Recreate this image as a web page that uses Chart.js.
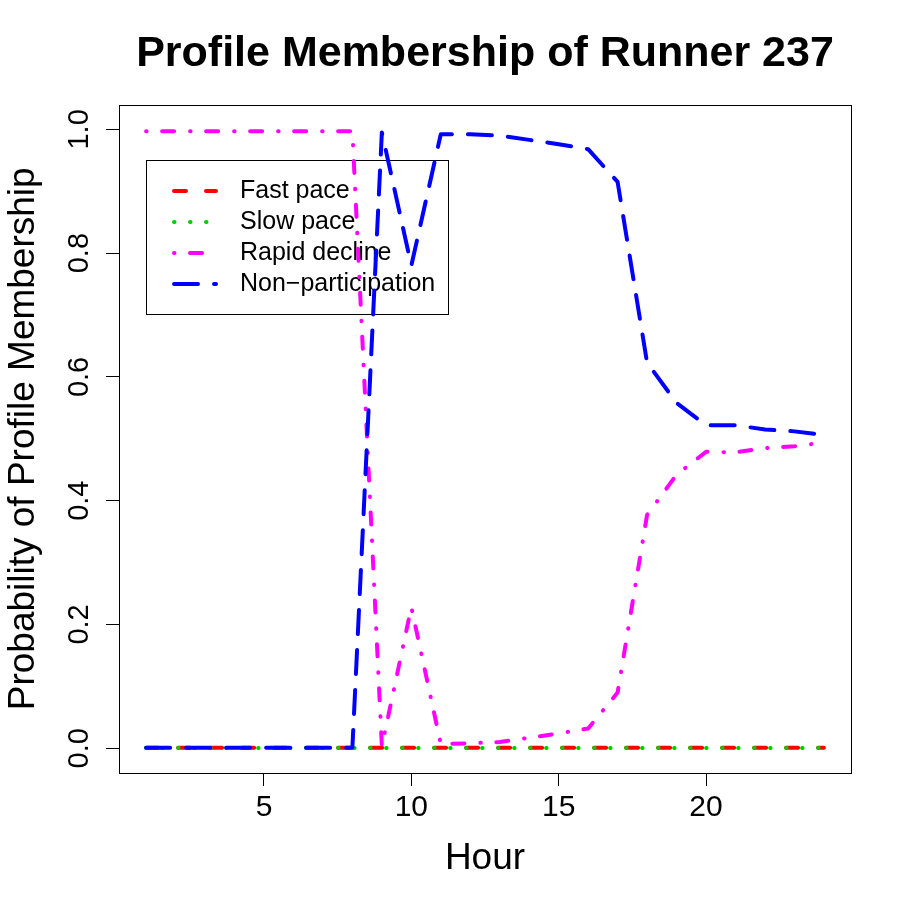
<!DOCTYPE html>
<html>
<head>
<meta charset="utf-8">
<script src="https://cdn.jsdelivr.net/npm/chart.js@4.4.0/dist/chart.umd.min.js"></script>
<style>
  html, body { margin: 0; padding: 0; background: #fff; }
  #wrap { width: 905px; height: 905px; }
</style>
</head>
<body>
<div id="wrap"><canvas id="chart" width="905" height="905"></canvas></div>
<script>
// --- data ---
const hours = [1, 2, 3, 4, 5, 6, 7, 8, 9, 10, 11, 12, 13, 14, 15, 16, 17, 18, 19, 20, 21, 22, 23, 24];
const fastPace = [0.001, 0.001, 0.001, 0.001, 0.001, 0.001, 0.001, 0.001, 0.001, 0.001, 0.001, 0.001,
                  0.001, 0.001, 0.001, 0.001, 0.001, 0.001, 0.001, 0.001, 0.001, 0.001, 0.001, 0.001];
const slowPace = [0.0005, 0.0005, 0.0005, 0.0005, 0.0005, 0.0005, 0.0005, 0.0005, 0.0005, 0.0005, 0.0005, 0.0005,
                  0.0005, 0.0005, 0.0005, 0.0005, 0.0005, 0.0005, 0.0005, 0.0005, 0.0005, 0.0005, 0.0005, 0.0005];
const rapidDecline = [0.997, 0.997, 0.997, 0.997, 0.997, 0.997, 0.997, 0.997, 0.003, 0.228, 0.007, 0.008,
                      0.010, 0.017, 0.024, 0.032, 0.090, 0.377, 0.442, 0.479, 0.478, 0.485, 0.488, 0.494];
const nonParticipation = [0.001, 0.001, 0.001, 0.001, 0.001, 0.001, 0.001, 0.001, 0.995, 0.780, 0.992, 0.992,
                          0.990, 0.983, 0.976, 0.968, 0.915, 0.623, 0.558, 0.522, 0.522, 0.515, 0.512, 0.506];
const seriesNames = ['Fast pace', 'Slow pace', 'Rapid decline', 'Non\u2212participation'];
const xTicks = [5, 10, 15, 20];
const yTicks = [0, 0.2, 0.4, 0.6, 0.8, 1.0];

const FONT = '"Liberation Sans", Arial, Helvetica, sans-serif';

// R line types (lwd 4) as canvas dashes with round caps
const styles = [
    { color: '#FF0000', dash: [12, 20] },          // lty 2
    { color: '#00CD00', dash: [0.5, 15.5] },       // lty 3
    { color: '#FF00FF', dash: [0.5, 15.5, 12, 16] },// lty 4
    { color: '#0000FF', dash: [24, 16] }           // lty 5
];
const seriesData = [fastPace, slowPace, rapidDecline, nonParticipation];

const datasets = seriesData.map((vals, i) => ({
    label: seriesNames[i],
    data: hours.map((h, j) => ({ x: h, y: vals[j] })),
    borderColor: styles[i].color,
    borderWidth: 4,
    borderDash: styles[i].dash,
    borderCapStyle: 'round',
    borderJoinStyle: 'round',
    pointRadius: 0,
    tension: 0,
    fill: false,
    order: 3 - i
}));

// box, rotated y labels and legend, the way R draws them
const rDecor = {
    id: 'rDecor',
    beforeDatasetsDraw(chart) {
        const ctx = chart.ctx;
        // legend (drawn below the lines)
        const lx = 146, ly = 160, lw = 302, lh = 154;
        ctx.save();
        ctx.strokeStyle = '#000';
        ctx.lineWidth = 1;
        ctx.strokeRect(lx + 0.5, ly + 0.5, lw, lh);
        const rows = [191, 222, 253, 284];
        ctx.font = '25px ' + FONT;
        ctx.textBaseline = 'middle';
        ctx.textAlign = 'left';
        rows.forEach((ry, i) => {
            ctx.beginPath();
            ctx.strokeStyle = styles[i].color;
            ctx.lineWidth = 4;
            ctx.lineCap = 'round';
            ctx.setLineDash(styles[i].dash);
            ctx.moveTo(174, ry);
            ctx.lineTo(216, ry);
            ctx.stroke();
            ctx.setLineDash([]);
            ctx.fillStyle = '#000';
            ctx.fillText(seriesNames[i], 240, ry);
        });
        ctx.restore();
    },
    afterDraw(chart) {
        const ctx = chart.ctx;
        const a = chart.chartArea;
        const yScale = chart.scales.y;
        ctx.save();
        ctx.strokeStyle = '#000';
        ctx.lineWidth = 1;
        ctx.strokeRect(Math.round(a.left) + 0.5, Math.round(a.top) + 0.5,
                       Math.round(a.right - a.left), Math.round(a.bottom - a.top));
        ctx.fillStyle = '#000';
        ctx.font = '29px ' + FONT;
        ctx.textAlign = 'center';
        ctx.textBaseline = 'middle';
        yTicks.forEach(v => {
            const py = yScale.getPixelForValue(v);
            ctx.save();
            ctx.translate(80, py);
            ctx.rotate(-Math.PI / 2);
            ctx.fillText(v.toFixed(1), 0, 0);
            ctx.restore();
        });
        ctx.restore();
    }
};

new Chart(document.getElementById('chart'), {
    type: 'line',
    data: { datasets: datasets },
    options: {
        responsive: false,
        animation: false,
        layout: { padding: { left: 0, right: 54, top: 0, bottom: 0 } },
        plugins: {
            legend: { display: false },
            tooltip: { enabled: false },
            title: {
                display: true,
                fullSize: false,
                text: 'Profile Membership of Runner 237',
                color: '#000',
                font: { family: FONT, size: 43, weight: 'bold', lineHeight: 1.2 },
                padding: { top: 28, bottom: 25 }
            }
        },
        scales: {
            x: {
                type: 'linear',
                min: 0.08,
                max: 24.92,
                afterBuildTicks: s => { s.ticks = xTicks.map(v => ({ value: v })); },
                afterFit: s => { s.height = 132; },
                grid: { display: true, drawOnChartArea: false, drawTicks: true, tickLength: 13, color: '#000' },
                border: { display: false },
                ticks: {
                    color: '#000',
                    padding: 4,
                    maxRotation: 0,
                    font: { family: FONT, size: 30 },
                    callback: v => String(v)
                },
                title: {
                    display: true,
                    text: 'Hour',
                    color: '#000',
                    font: { family: FONT, size: 37, lineHeight: 1.2 },
                    padding: { top: 0, bottom: 24 }
                }
            },
            y: {
                type: 'linear',
                min: -0.04,
                max: 1.04,
                afterBuildTicks: s => { s.ticks = yTicks.map(v => ({ value: v })); },
                afterFit: s => { s.width = 119; },
                grid: { display: true, drawOnChartArea: false, drawTicks: true, tickLength: 13, color: '#000' },
                border: { display: false },
                ticks: { display: false },
                title: {
                    display: true,
                    text: 'Probability of Profile Membership',
                    color: '#000',
                    font: { family: FONT, size: 37, lineHeight: 1.2 },
                    padding: { top: 2, bottom: 0 }
                }
            }
        }
    },
    plugins: [rDecor]
});
</script>
</body>
</html>
